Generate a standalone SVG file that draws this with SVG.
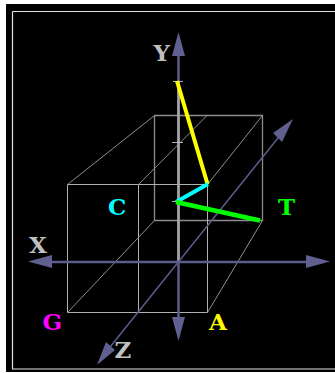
<svg xmlns="http://www.w3.org/2000/svg" width="335" height="373" viewBox="0 0 335 373">
<style>
.front{fill:none;stroke:#b0b0b0;stroke-width:1}
.back{fill:none;stroke:#8c8c8c;stroke-width:1.300}
.edge{fill:none;stroke:#909090;stroke-width:1}
.axis{stroke:#5c5c8c;fill:none}
.head{fill:#5f5f90;stroke:none}
.tick{stroke:#b0b0b0;fill:none}
text{font-family:"DejaVu Serif","Liberation Serif",serif;font-weight:bold;font-size:23px}
</style>
<rect x="0" y="0" width="335" height="373" fill="#fff"/>
<rect x="6" y="4" width="329" height="368" fill="#000"/>
<path d="M12.500 11.500H335M12.500 11.500V369H335" fill="none" stroke="#e4e4e4" stroke-width="1.200"/>
<g id="box">
<path class="back" d="M154.500 115.500H262.500V220.500H154.500Z"/>
<path class="front" d="M67.500 184.500H207.500V312.500H67.500ZM138.500 184.500V312.500"/>
<path class="edge" d="M67.500 184.500L154.500 115.500M207.500 184.500L262.500 115.500M138.500 184.500L207 115.500M67.500 312.500L154.500 220.500M207.500 312.500L262.500 220.500"/>
</g>
<g id="connectors">
<path d="M178.500 50V82M178.500 262V322" class="axis" stroke-width="2.500"/>
<path d="M178.500 82V262" stroke="#a4a4a8" stroke-width="2.800" fill="none"/>
<path class="tick" d="M173 81.500H183M172 142.500H183M172 201.500H178M172 261.500H184"/>
<path d="M48 262H310" class="axis" stroke-width="2.500"/>
<path d="M102 357L282 133" class="axis" stroke-width="1.500"/>
<polygon class="head" points="178.500,32 172,56 185,56"/>
<polygon class="head" points="178.500,341 172,317 185,317"/>
<polygon class="head" points="28,261.500 52,255 52,268"/>
<polygon class="head" points="330,261.500 306,255 306,268"/>
<polygon class="head" points="293,119 273,133 282,142"/>
<polygon class="head" points="97,365 106,342 115,350"/>
<path d="M177 81L207.500 184" stroke="#ffff00" stroke-width="4" fill="none"/>
<path d="M176 202L208 184" stroke="#00ffff" stroke-width="4" fill="none"/>
<path d="M176 202L260 220.500" stroke="#00ff00" stroke-width="4.500" fill="none"/>
</g>
<g id="labels">
<text x="153.500" y="61" fill="#c0c0c0">Y</text>
<text x="29" y="253" fill="#c0c0c0">X</text>
<text x="114.500" y="358" fill="#c0c0c0">Z</text>
<text x="108" y="215" fill="#00ffff">C</text>
<text x="42.500" y="330" fill="#ff00ff">G</text>
<text x="209" y="330" fill="#ffff00">A</text>
<text x="278" y="215" fill="#00ff00">T</text>
</g>
</svg>
